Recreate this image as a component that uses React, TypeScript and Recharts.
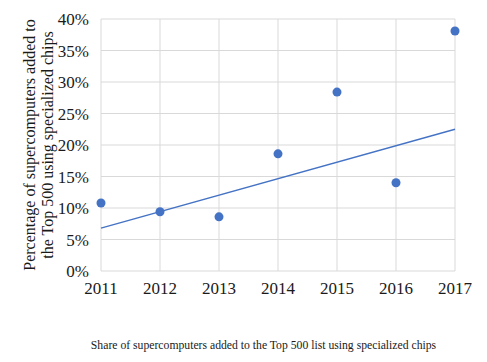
import React from "react";
import {
  ComposedChart,
  Scatter,
  Line,
  XAxis,
  YAxis,
  CartesianGrid,
  Label,
} from "recharts";

// values
const years = [2011, 2012, 2013, 2014, 2015, 2016, 2017];
const sharePct = [10.8, 9.4, 8.6, 18.6, 28.4, 14.0, 38.1];
const trendYears = [2011, 2017];
const trendPct = [6.8, 22.5];
const yTicks = [0, 5, 10, 15, 20, 25, 30, 35, 40];

const points = years.map((y, i) => ({ year: y, share: sharePct[i] }));
const trend = trendYears.map((y, i) => ({ year: y, trend: trendPct[i] }));

const BLUE = "#4472C4";
const FONT = "Liberation Serif";
const INK = "#1a1a1a";

const XTick = (props: any) => {
  const { x, y, payload } = props;
  return (
    <text x={x} y={y} dy="0.71em" textAnchor="middle" fontFamily={FONT} fontSize={17} fill={INK}>
      {payload.value}
    </text>
  );
};

const YTick = (props: any) => {
  const { x, y, payload } = props;
  return (
    <text x={x} y={y} dy="0.355em" textAnchor="end" fontFamily={FONT} fontSize={17} fill={INK}>
      {`${payload.value}%`}
    </text>
  );
};

const YLabel = (props: any) => {
  const vb = props.viewBox || {};
  const cy = (vb.y ?? 19) + (vb.height ?? 252) / 2;
  return (
    <g fontFamily={FONT} fontSize={16} fill={INK}>
      <text
        x={29}
        y={cy}
        transform={`rotate(-90, 29, ${cy})`}
        textAnchor="middle"
        dominantBaseline="central"
      >
        Percentage of supercomputers added to
      </text>
      <text
        x={47}
        y={cy}
        transform={`rotate(-90, 47, ${cy})`}
        textAnchor="middle"
        dominantBaseline="central"
      >
        the Top 500 using specialized chips
      </text>
    </g>
  );
};

export default function App() {
  return (
    <div
      style={{
        position: "absolute",
        left: 0,
        top: 0,
        width: 487,
        height: 362,
        background: "#fff",
      }}
    >
      <ComposedChart
        width={487}
        height={310}
        margin={{ top: 19, right: 32, bottom: 9, left: 0 }}
      >
        <CartesianGrid stroke="#d9d9d9" strokeWidth={1} />
        <XAxis
          dataKey="year"
          type="number"
          domain={[2011, 2017]}
          ticks={years}
          axisLine={false}
          tickLine={false}
          tickSize={0}
          tickMargin={11}
          height={30}
          tick={<XTick />}
          allowDuplicatedCategory={false}
        />
        <YAxis
          type="number"
          domain={[0, 40]}
          ticks={yTicks}
          width={101}
          axisLine={false}
          tickLine={false}
          tickSize={0}
          tickMargin={12}
          tick={<YTick />}
        >
          <Label content={<YLabel />} />
        </YAxis>
        <Line
          data={trend}
          dataKey="trend"
          type="linear"
          stroke={BLUE}
          strokeWidth={1.3}
          dot={false}
          isAnimationActive={false}
        />
        <Scatter
          data={points}
          dataKey="share"
          fill={BLUE}
          shape={(p: any) => <circle cx={p.cx} cy={p.cy} r={4.5} fill={BLUE} />}
          isAnimationActive={false}
        />
      </ComposedChart>
      <div
        style={{
          position: "absolute",
          top: 339,
          left: 0,
          width: 487,
          textAlign: "center",
          fontFamily: FONT,
          fontSize: 11.7,
          color: INK,
          paddingLeft: 40,
          boxSizing: "border-box",
          whiteSpace: "nowrap",
        }}
      >
        Share of supercomputers added to the Top 500 list using specialized chips
      </div>
    </div>
  );
}
